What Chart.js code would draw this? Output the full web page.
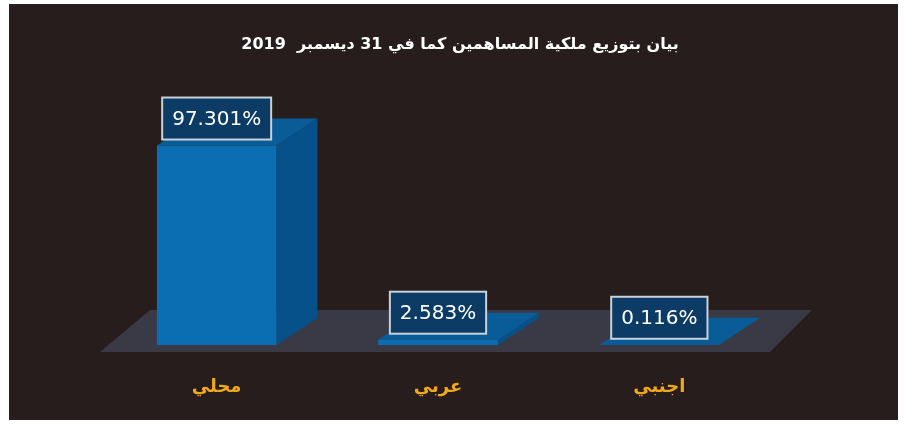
<!DOCTYPE html>
<html>
<head>
<meta charset="utf-8">
<script src="https://cdn.jsdelivr.net/npm/chart.js@4/dist/chart.umd.min.js"></script>
<style>
    html, body { margin: 0; background: #fff; }
    #contenedor { width: 904px; height: 425px; }
</style>
</head>
<body>
<div id="contenedor"><canvas id="graficoAccionistas"></canvas></div>
<script>

const titulo = "بيان بتوزيع ملكية المساهمين كما في 31 ديسمبر  2019";
const categorias = ["محلي", "عربي", "اجنبي"];
const porcentajes = [97.301, 2.583, 0.116];

// profundidad de la vista 3D
const prof = { dx: 41, dy: -27 };

const fondoPlugin = {
    id: "fondo",
    beforeDraw(chart) {
        const ctx = chart.ctx;
        ctx.save();
        ctx.fillStyle = "#ffffff";
        ctx.fillRect(0, 0, chart.width, chart.height);
        ctx.fillStyle = "#271d1c";
        ctx.fillRect(9, 4, 889, 416);

        ctx.fillStyle = "#ffffff";
        ctx.font = "bold 16px 'DejaVu Sans'";
        ctx.direction = "rtl";
        ctx.textAlign = "center";
        ctx.textBaseline = "middle";
        ctx.fillText(titulo, 460, 45);
        ctx.restore();
    }
};

const cajas3D = {
    id: "cajas3D",
    beforeDatasetsDraw(chart) {
        const ctx = chart.ctx;
        const area = chart.chartArea;
        const base = chart.scales.y.getPixelForValue(0);
        ctx.save();

        // piso
        ctx.fillStyle = "#393a45";
        ctx.beginPath();
        ctx.moveTo(area.left - 6, base + 7);
        ctx.lineTo(area.left + 44, base - 35);
        ctx.lineTo(area.right + 42, base - 35);
        ctx.lineTo(area.right, base + 7);
        ctx.closePath();
        ctx.fill();

        chart.getDatasetMeta(0).data.forEach(bar => {
            const izq = bar.x - bar.width / 2;
            const der = bar.x + bar.width / 2;
            const arriba = bar.y;

            ctx.fillStyle = "#06518a";
            ctx.beginPath();
            ctx.moveTo(der, arriba);
            ctx.lineTo(der + prof.dx, arriba + prof.dy);
            ctx.lineTo(der + prof.dx, base + prof.dy);
            ctx.lineTo(der, base);
            ctx.closePath();
            ctx.fill();

            ctx.fillStyle = "#0a5c99";
            ctx.beginPath();
            ctx.moveTo(izq, arriba);
            ctx.lineTo(izq + prof.dx, arriba + prof.dy);
            ctx.lineTo(der + prof.dx, arriba + prof.dy);
            ctx.lineTo(der, arriba);
            ctx.closePath();
            ctx.fill();
        });
        ctx.restore();
    },
    afterDatasetsDraw(chart) {
        const ctx = chart.ctx;
        ctx.save();
        ctx.font = "20px 'DejaVu Sans'";
        ctx.textAlign = "center";
        ctx.textBaseline = "middle";
        chart.getDatasetMeta(0).data.forEach((bar, i) => {
            const texto = porcentajes[i].toFixed(3) + "%";
            const ancho = ctx.measureText(texto).width + 20;
            const alto = 42;
            const x = bar.x - ancho / 2;
            const y = bar.y - 6 - alto;
            ctx.fillStyle = "#0c3c66";
            ctx.fillRect(x, y, ancho, alto);
            ctx.strokeStyle = "#c9d2da";
            ctx.lineWidth = 2;
            ctx.strokeRect(x, y, ancho, alto);
            ctx.fillStyle = "#ffffff";
            ctx.fillText(texto, bar.x, y + alto / 2 + 1);
        });
        ctx.restore();
    }
};

new Chart(document.getElementById("graficoAccionistas"), {
    type: "bar",
    data: {
        labels: categorias,
        datasets: [{
            data: porcentajes,
            backgroundColor: "#0b6eb2",
            barPercentage: 0.54,
            categoryPercentage: 1
        }]
    },
    options: {
        responsive: true,
        maintainAspectRatio: false,
        animation: false,
        layout: { padding: { left: 106, right: 134, top: 140, bottom: 27 } },
        plugins: {
            legend: { display: false },
            title: { display: false },
            tooltip: { enabled: false }
        },
        scales: {
            x: {
                grid: { display: false, drawTicks: false },
                border: { display: false },
                ticks: {
                    color: "#f0a81c",
                    font: { family: "'DejaVu Sans'", size: 18, weight: "bold" },
                    padding: 32
                },
                afterFit(scale) { scale.height = 53; }
            },
            y: {
                display: false,
                min: 0,
                max: 100
            }
        }
    },
    plugins: [fondoPlugin, cajas3D]
});

</script>
</body>
</html>
